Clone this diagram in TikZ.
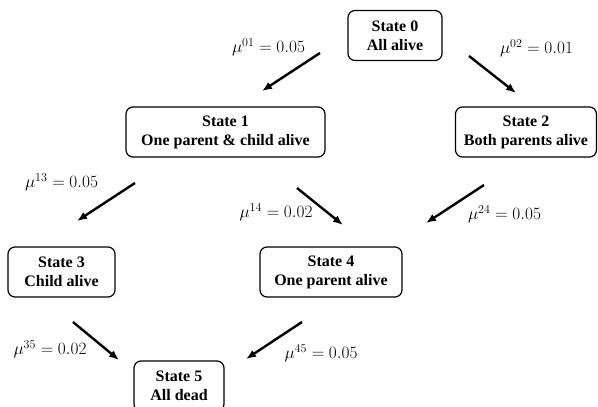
\documentclass[tikz,border=0pt]{standalone}
\usepackage{fontspec}
\setmainfont{Liberation Serif}
\usepackage{tikz}
\usetikzlibrary{
  arrows.meta,
  positioning
}
\tikzset{>={Latex[length=10pt,width=8pt]}}
\tikzset{state/.style={draw, rounded corners=7pt, line width=1.2pt, align=center,
    minimum height=50pt, inner xsep=2pt, font=\bfseries\fontsize{16}{19}\selectfont}}
\tikzset{rate/.style={inner sep=0pt, font=\fontsize{16.5}{18}\selectfont}}
\tikzset{trans/.style={->, line width=2.4pt}}

\begin{document}
\begin{tikzpicture}[x=1pt,y=-1pt]
          \useasboundingbox (0,0) rectangle (598,407);
          % states
          \node[state, minimum width=94pt] (s0) at (395,35.5) {State 0\\All alive};
          \node[state, minimum width=199pt] (s1) at (225.5,132) {State 1\\One parent \& child alive};
          \node[state, minimum width=141pt] (s2) at (526,132) {State 2\\Both parents alive};
          \node[state, minimum width=107pt] (s3) at (61.5,272) {State 3\\Child alive};
          \node[state, minimum width=142pt] (s4) at (331,272) {State 4\\One parent alive};
          \node[state, minimum width=90pt] (s5) at (179,386) {State 5\\All dead};
          % transition arrows
          \coordinate (t01a) at (320,53);  \coordinate (t01b) at (262,91);
          \coordinate (t02a) at (469,56);  \coordinate (t02b) at (516,93);
          \coordinate (t13a) at (135,183); \coordinate (t13b) at (77,221);
          \coordinate (t14a) at (297,188); \coordinate (t14b) at (343,225);
          \coordinate (t24a) at (484,185); \coordinate (t24b) at (426,223);
          \coordinate (t35a) at (73,322);  \coordinate (t35b) at (119,360);
          \coordinate (t45a) at (302,322); \coordinate (t45b) at (246,359);
          \foreach \t in {01,02,13,14,24,35,45}
            \draw[trans] (t\t a) -- (t\t b);
          % rates
          \node[rate] (r01) at (268.5,47) {$\mu^{01} = 0.05$};
          \node[rate] (r02) at (536.5,48) {$\mu^{02} = 0.01$};
          \node[rate] (r13) at (61.5,182) {$\mu^{13} = 0.05$};
          \node[rate] (r14) at (276,212) {$\mu^{14} = 0.02$};
          \node[rate] (r24) at (504.5,214) {$\mu^{24} = 0.05$};
          \node[rate] (r35) at (50,349) {$\mu^{35} = 0.02$};
          \node[rate] (r45) at (321,353) {$\mu^{45} = 0.05$};
        \end{tikzpicture}
\end{document}
